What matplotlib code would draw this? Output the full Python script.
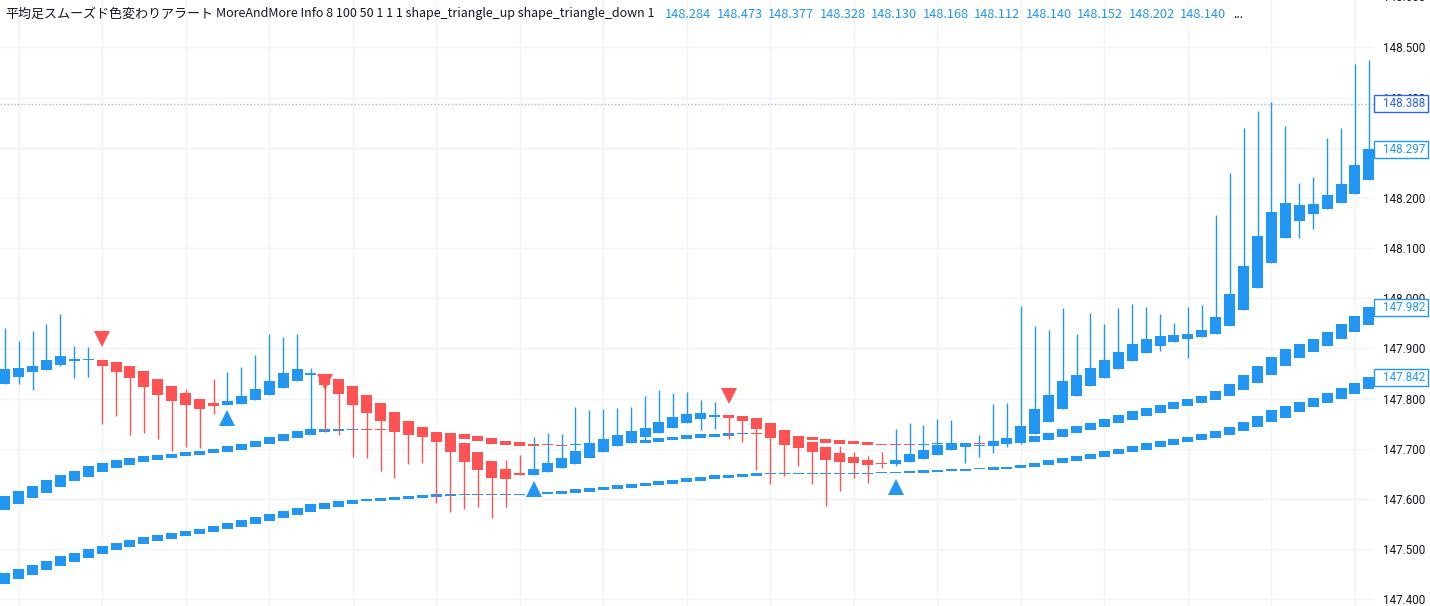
import numpy as np
import matplotlib.pyplot as plt
import matplotlib.transforms as mtransforms
from matplotlib.patches import Rectangle

BLUE = '#2196f3'
RED = '#ff5252'
DARKBLUE = '#2962ff'
TXT = '#131722'
GRID = '#f0f3fa'

# smoothed heikin-ashi candles
ha_open = [147.830, 147.843, 147.853, 147.857, 147.867, 147.875, 147.877, 147.878, 147.873, 147.865,
           147.855, 147.839, 147.825, 147.811, 147.799, 147.791, 147.787, 147.789, 147.797, 147.807,
           147.821, 147.835, 147.848, 147.845, 147.839, 147.825, 147.807, 147.791, 147.773, 147.755,
           147.743, 147.733, 147.731, 147.711, 147.693, 147.675, 147.659, 147.651, 147.647, 147.653,
           147.661, 147.669, 147.681, 147.693, 147.705, 147.711, 147.723, 147.731, 147.741, 147.751,
           147.759, 147.764, 147.767, 147.765, 147.761, 147.751, 147.737, 147.725, 147.713, 147.703,
           147.691, 147.683, 147.677, 147.672, 147.669, 147.673, 147.679, 147.687, 147.697, 147.703,
           147.706, 147.705, 147.709, 147.711, 147.729, 147.753, 147.779, 147.805, 147.825, 147.841,
           147.859, 147.875, 147.891, 147.905, 147.913, 147.919, 147.923, 147.929, 147.945, 147.977,
           148.021, 148.071, 148.121, 148.155, 148.169, 148.177, 148.189, 148.207, 148.235]
ha_close = [147.860, 147.862, 147.865, 147.877, 147.885, 147.880, 147.879, 147.865, 147.853, 147.841,
            147.823, 147.807, 147.795, 147.787, 147.779, 147.785, 147.795, 147.805, 147.819, 147.835,
            147.851, 147.859, 147.850, 147.828, 147.809, 147.787, 147.771, 147.755, 147.733, 147.727,
            147.723, 147.713, 147.693, 147.673, 147.657, 147.641, 147.639, 147.647, 147.659, 147.671,
            147.681, 147.695, 147.711, 147.719, 147.727, 147.735, 147.741, 147.753, 147.763, 147.769,
            147.771, 147.768, 147.761, 147.755, 147.739, 147.721, 147.707, 147.701, 147.693, 147.677,
            147.673, 147.671, 147.667, 147.670, 147.677, 147.689, 147.697, 147.707, 147.711, 147.711,
            147.708, 147.715, 147.721, 147.745, 147.779, 147.807, 147.835, 147.847, 147.861, 147.877,
            147.893, 147.909, 147.919, 147.925, 147.927, 147.929, 147.937, 147.963, 148.009, 148.065,
            148.125, 148.173, 148.189, 148.185, 148.187, 148.205, 148.227, 148.265, 148.297]
ha_high = [147.940, 147.915, 147.935, 147.949, 147.969, 147.905, 147.902, 147.878, 147.873, 147.865,
           147.855, 147.839, 147.825, 147.820, 147.799, 147.839, 147.853, 147.863, 147.887, 147.929,
           147.923, 147.929, 147.862, 147.845, 147.839, 147.825, 147.807, 147.791, 147.773, 147.755,
           147.743, 147.733, 147.731, 147.711, 147.693, 147.675, 147.677, 147.687, 147.723, 147.731,
           147.729, 147.783, 147.777, 147.779, 147.781, 147.783, 147.805, 147.817, 147.811, 147.813,
           147.797, 147.793, 147.767, 147.765, 147.761, 147.751, 147.737, 147.725, 147.713, 147.703,
           147.705, 147.693, 147.685, 147.693, 147.739, 147.751, 147.747, 147.759, 147.757, 147.711,
           147.727, 147.789, 147.791, 147.985, 147.945, 147.937, 147.981, 147.929, 147.971, 147.949,
           147.981, 147.989, 147.983, 147.969, 147.951, 147.983, 147.987, 148.167, 148.249, 148.339,
           148.373, 148.391, 148.343, 148.229, 148.241, 148.319, 148.339, 148.467, 148.475]
ha_low = [147.830, 147.830, 147.818, 147.857, 147.865, 147.842, 147.843, 147.750, 147.765, 147.727,
          147.731, 147.720, 147.695, 147.703, 147.701, 147.769, 147.787, 147.789, 147.797, 147.807,
          147.821, 147.835, 147.738, 147.733, 147.727, 147.683, 147.681, 147.655, 147.641, 147.669,
          147.671, 147.591, 147.575, 147.581, 147.585, 147.563, 147.585, 147.647, 147.647, 147.653,
          147.661, 147.669, 147.681, 147.693, 147.705, 147.711, 147.716, 147.731, 147.741, 147.751,
          147.737, 147.739, 147.719, 147.713, 147.657, 147.629, 147.645, 147.665, 147.629, 147.587,
          147.615, 147.641, 147.631, 147.661, 147.665, 147.673, 147.679, 147.687, 147.697, 147.671,
          147.683, 147.691, 147.703, 147.709, 147.729, 147.753, 147.779, 147.805, 147.825, 147.841,
          147.859, 147.875, 147.891, 147.895, 147.913, 147.881, 147.923, 147.929, 147.945, 147.977,
          148.021, 148.071, 148.121, 148.121, 148.139, 148.177, 148.189, 148.207, 148.235]

# MA 50 candles
ma50_open = [147.578, 147.590, 147.602, 147.611, 147.623, 147.635, 147.643, 147.653, 147.661, 147.667,
             147.673, 147.678, 147.681, 147.685, 147.687, 147.691, 147.693, 147.697, 147.703, 147.709,
             147.715, 147.721, 147.727, 147.733, 147.735, 147.738, 147.738, 147.738, 147.737, 147.736,
             147.735, 147.733, 147.731, 147.729, 147.725, 147.721, 147.715, 147.713, 147.709, 147.708,
             147.707, 147.707, 147.707, 147.708, 147.709, 147.711, 147.711, 147.713, 147.717, 147.719,
             147.721, 147.723, 147.725, 147.730, 147.730, 147.729, 147.727, 147.725, 147.723, 147.720,
             147.718, 147.715, 147.713, 147.710, 147.708, 147.708, 147.708, 147.709, 147.710, 147.710,
             147.711, 147.711, 147.713, 147.715, 147.713, 147.717, 147.723, 147.731, 147.737, 147.743,
             147.751, 147.757, 147.765, 147.771, 147.779, 147.785, 147.791, 147.797, 147.805, 147.817,
             147.831, 147.847, 147.865, 147.881, 147.893, 147.905, 147.919, 147.933, 147.947]
ma50_close = [147.605, 147.615, 147.625, 147.637, 147.647, 147.655, 147.665, 147.671, 147.677, 147.681,
              147.685, 147.687, 147.689, 147.693, 147.695, 147.699, 147.705, 147.709, 147.715, 147.723,
              147.729, 147.735, 147.739, 147.739, 147.739, 147.739, 147.737, 147.737, 147.735, 147.734,
              147.732, 147.730, 147.729, 147.719, 147.715, 147.709, 147.707, 147.705, 147.705, 147.707,
              147.706, 147.708, 147.709, 147.711, 147.713, 147.715, 147.717, 147.721, 147.723, 147.727,
              147.729, 147.729, 147.731, 147.731, 147.729, 147.727, 147.724, 147.721, 147.717, 147.711,
              147.710, 147.709, 147.707, 147.707, 147.707, 147.707, 147.709, 147.710, 147.711, 147.711,
              147.710, 147.713, 147.715, 147.717, 147.725, 147.731, 147.739, 147.745, 147.751, 147.759,
              147.767, 147.775, 147.781, 147.787, 147.793, 147.799, 147.805, 147.815, 147.829, 147.847,
              147.865, 147.883, 147.899, 147.909, 147.919, 147.933, 147.949, 147.965, 147.982]

# MA 100 candles
ma100_open = [147.431, 147.441, 147.449, 147.459, 147.467, 147.475, 147.483, 147.491, 147.499, 147.505,
              147.511, 147.517, 147.521, 147.527, 147.531, 147.535, 147.541, 147.545, 147.551, 147.557,
              147.563, 147.569, 147.575, 147.581, 147.585, 147.589, 147.595, 147.595, 147.597, 147.599,
              147.601, 147.603, 147.605, 147.607, 147.607, 147.607, 147.607, 147.607, 147.608, 147.609,
              147.609, 147.611, 147.613, 147.617, 147.619, 147.621, 147.625, 147.627, 147.629, 147.633,
              147.635, 147.639, 147.641, 147.643, 147.645, 147.650, 147.650, 147.650, 147.650, 147.650,
              147.650, 147.650, 147.650, 147.651, 147.651, 147.651, 147.651, 147.653, 147.655, 147.655,
              147.659, 147.657, 147.659, 147.661, 147.663, 147.667, 147.671, 147.675, 147.679, 147.683,
              147.689, 147.693, 147.697, 147.703, 147.707, 147.713, 147.717, 147.721, 147.727, 147.735,
              147.743, 147.753, 147.762, 147.773, 147.783, 147.791, 147.799, 147.809, 147.819]
ma100_close = [147.452, 147.461, 147.469, 147.477, 147.487, 147.493, 147.501, 147.507, 147.513, 147.519,
               147.525, 147.529, 147.533, 147.537, 147.541, 147.547, 147.553, 147.559, 147.565, 147.571,
               147.577, 147.583, 147.589, 147.591, 147.595, 147.597, 147.599, 147.601, 147.603, 147.605,
               147.607, 147.609, 147.609, 147.608, 147.608, 147.608, 147.608, 147.608, 147.610, 147.613,
               147.615, 147.619, 147.621, 147.623, 147.627, 147.629, 147.631, 147.635, 147.637, 147.641,
               147.643, 147.647, 147.647, 147.649, 147.651, 147.651, 147.651, 147.651, 147.651, 147.651,
               147.651, 147.651, 147.651, 147.652, 147.652, 147.655, 147.657, 147.657, 147.659, 147.659,
               147.660, 147.663, 147.663, 147.667, 147.671, 147.677, 147.681, 147.685, 147.689, 147.695,
               147.699, 147.705, 147.711, 147.715, 147.719, 147.723, 147.729, 147.735, 147.743, 147.753,
               147.765, 147.777, 147.785, 147.793, 147.801, 147.811, 147.821, 147.831, 147.843]

# signals: bar index and price level of the marker
sell_idx = [7, 23, 52]
sell_lvl = [147.919, 147.834, 147.806]
buy_idx = [16, 38, 64]
buy_lvl = [147.761, 147.619, 147.623]

last_price = 148.388
price_tags = [(148.388, DARKBLUE), (148.297, BLUE), (147.982, BLUE), (147.842, BLUE)]
yticks = [147.4, 147.5, 147.6, 147.7, 147.8, 147.9, 148.0, 148.1, 148.2, 148.3, 148.4, 148.5]

title_jp = '平均足スムーズド色変わりアラート'
title_args = 'MoreAndMore Info 8 100 50 1 1 1 shape_triangle_up shape_triangle_down 1'
header_vals = ['148.284', '148.473', '148.377', '148.328', '148.130', '148.168',
               '148.112', '148.140', '148.152', '148.202', '148.140']

W, H = 1430, 606
fig = plt.figure(figsize=(W / 100, H / 100), dpi=100)
ax_right = 1373.5
ax = fig.add_axes([0, 0, ax_right / W, 1])

n = len(ha_open)
x = np.arange(n)
min_h = 0.0022
body_w = 0.79


def draw_candles(o, c, hi=None, lo=None, z=2):
    o = np.array(o)
    c = np.array(c)
    col = [BLUE if cc >= oo else RED for oo, cc in zip(o, c)]
    if hi is not None:
        ax.vlines(x, lo, hi, colors=col, linewidth=1.0, zorder=z)
    h = np.maximum(np.abs(c - o), min_h)
    bottom = np.minimum(o, c)
    ax.bar(x, h, bottom=bottom, width=body_w, color=col, linewidth=0, zorder=z + 0.1)


draw_candles(ma100_open, ma100_close, z=2)
draw_candles(ma50_open, ma50_close, z=2)
draw_candles(ha_open, ha_close, ha_high, ha_low, z=3)

ax.plot(sell_idx, sell_lvl, linestyle='none', marker='v', markersize=11, color=RED,
        markeredgewidth=0, zorder=5)
ax.plot(buy_idx, buy_lvl, linestyle='none', marker='^', markersize=11, color=BLUE,
        markeredgewidth=0, zorder=5)

# last price dotted line
ax.axhline(last_price, color=DARKBLUE, alpha=0.45, linewidth=1, linestyle=(0, (1, 1.5)), zorder=1)

ax.set_xlim(-0.338, (ax_right - 4.7) / 13.92)
ax.set_ylim(148.0 - (H - 298.3) / 501.7, 148.0 + 298.3 / 501.7)

ax.set_xticks(np.arange(1, n, 6))
ax.set_yticks(yticks)
ax.grid(True, color=GRID, linewidth=1)
ax.set_axisbelow(True)
ax.tick_params(axis='x', length=0, labelbottom=False)
ax.yaxis.tick_right()
ax.tick_params(axis='y', length=0, pad=7, labelsize=8.4, labelcolor=TXT)
ax.set_yticklabels([f'{v:.3f}' for v in yticks], family='Roboto')
for s in ax.spines.values():
    s.set_visible(False)

# top label only partly visible
ax.text(1.0 + 9.5 / ax_right, 148.6, '148.600', transform=ax.get_yaxis_transform(),
        ha='left', va='center', fontsize=8.4, color=TXT, family='Roboto', clip_on=False)

# price tags on the axis
trans = mtransforms.blended_transform_factory(ax.transAxes, ax.transData)
for val, col in price_tags:
    ax.add_patch(Rectangle((1.0, val - 0.0165), 54.5 / ax_right, 0.033, transform=trans,
                           facecolor='white', edgecolor=col, linewidth=1, clip_on=False, zorder=6))
    ax.text(1.0 + 9.5 / ax_right, val, f'{val:.3f}', transform=trans, ha='left', va='center',
            fontsize=8.4, color=col, family='Roboto', clip_on=False, zorder=7)

# header
fam = ['Noto Sans CJK JP', 'DejaVu Sans']
ty = 1 - 14 / H
fig.text(5 / W, ty, title_jp, ha='left', va='center', fontsize=9.4, color=TXT, family=fam)
fig.text(216 / W, ty, title_args, ha='left', va='center', fontsize=9.0, color=TXT, family=fam)
for k, v in enumerate(header_vals):
    fig.text((665 + 51.5 * k) / W, ty, v, ha='left', va='center', fontsize=9.2,
             color=BLUE, family=fam)
fig.text(1233 / W, ty, '...', ha='left', va='center', fontsize=9.2, color=TXT, family=fam)

fig.savefig('out.png', dpi=100, facecolor='white')
